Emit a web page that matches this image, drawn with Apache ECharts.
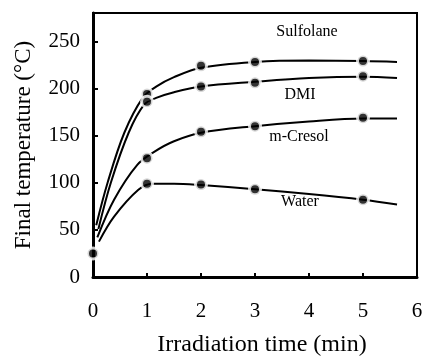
<!DOCTYPE html>
<html lang="en">
<head>
    <meta charset="UTF-8">
    <title>Final temperature</title>
    <script src="https://cdn.jsdelivr.net/npm/echarts@6/dist/echarts.min.js"></script>
    <style>
        html, body { margin: 0; padding: 0; background: #fff; }
        #main { width: 424px; height: 356px; }
    </style>
</head>
<body>
<div id="main"></div>
<script>
    // measured points (time in min, temperature in C)
    var startPoint = [[0, 25]];
    var times = [1, 2, 3, 5];
    var sulfolane = [194, 224, 228, 229];
    var dmi = [186, 202, 206, 213];
    var mCresol = [126, 154, 160, 169];
    var water = [99, 98, 93, 82];

    // fitted curves
    var sulfolaneCurve = [[0.06, 55], [0.27, 100], [0.58, 153], [0.92, 190], [1.17, 202], [1.5, 212], [2, 222], [3, 228], [4, 229.5], [5, 229], [5.63, 228]];
    var dmiCurve = [[0.1, 51], [0.33, 100], [0.66, 153], [0.95, 183], [1.17, 190], [1.5, 196], [2, 202], [3, 207], [4, 211], [5, 212.5], [5.63, 211]];
    var cresolCurve = [[0.08, 42], [0.39, 82], [0.82, 119], [1.14, 133], [1.5, 144], [2, 153], [3, 160], [4, 165], [5, 168], [5.63, 168]];
    var waterCurve = [[0.11, 37.5], [0.39, 64], [0.84, 92.5], [1.1, 99], [1.5, 99], [2, 97.5], [3, 93], [4, 88], [5, 82], [5.63, 77]];

    function pairs(xs, ys) {
        return xs.map(function (x, i) { return [x, ys[i]]; });
    }

    var serif = 'Liberation Serif';
    var myChart = echarts.init(document.getElementById('main'));

    function curve(data) {
        return {
            type: 'line',
            data: data,
            smooth: 0.35,
            showSymbol: false,
            symbol: 'none',
            lineStyle: { color: '#000', width: 2 },
            z: 2,
            silent: true
        };
    }
    function dots(data) {
        return {
            type: 'scatter',
            data: data,
            symbol: 'circle',
            symbolSize: 11,
            itemStyle: { color: '#000', borderColor: '#fff', borderWidth: 3 },
            z: 3
        };
    }
    function label(text, x, y) {
        return {
            type: 'text', x: x, y: y,
            style: { text: text, font: '16px "Liberation Serif"', fill: '#000', align: 'center', verticalAlign: 'middle' }
        };
    }

    var option = {
        animation: false,
        grid: {
            left: 93, right: 7, top: 13, bottom: 79, outerBoundsMode: 'none',
            show: true, borderColor: '#000', borderWidth: 2
        },
        xAxis: {
            type: 'value', min: 0, max: 6, interval: 1,
            name: 'Irradiation time (min)', nameLocation: 'middle', nameGap: 56, nameMoveOverlap: false,
            nameTextStyle: { fontFamily: serif, fontSize: 24, color: '#000', padding: [0, 0, 0, 14] },
            axisLine: { lineStyle: { color: '#000', width: 3 } },
            axisTick: { inside: true, length: 4, lineStyle: { color: '#000', width: 2 } },
            axisLabel: { fontFamily: serif, fontSize: 21, color: '#000', margin: 24 },
            splitLine: { show: false }
        },
        yAxis: {
            type: 'value', min: 0, max: 280, interval: 50,
            name: 'Final temperature (°C)', nameLocation: 'middle', nameGap: 58, nameMoveOverlap: false,
            nameTextStyle: { fontFamily: serif, fontSize: 23, color: '#000' },
            axisLine: { lineStyle: { color: '#000', width: 3 } },
            axisTick: { inside: true, length: 5, lineStyle: { color: '#000', width: 2 } },
            axisLabel: { fontFamily: serif, fontSize: 21, color: '#000', margin: 13, showMaxLabel: false },
            splitLine: { show: false }
        },
        graphic: [
            label('Sulfolane', 307, 32),
            label('DMI', 300, 95),
            label('m-Cresol', 299, 137),
            label('Water', 300, 202)
        ],
        series: [
            curve(sulfolaneCurve),
            curve(dmiCurve),
            curve(cresolCurve),
            curve(waterCurve),
            dots(pairs(times, sulfolane)),
            dots(pairs(times, dmi)),
            dots(pairs(times, mCresol)),
            dots(pairs(times, water)),
            dots(startPoint)
        ]
    };

    myChart.setOption(option, true);
</script>
</body>
</html>
